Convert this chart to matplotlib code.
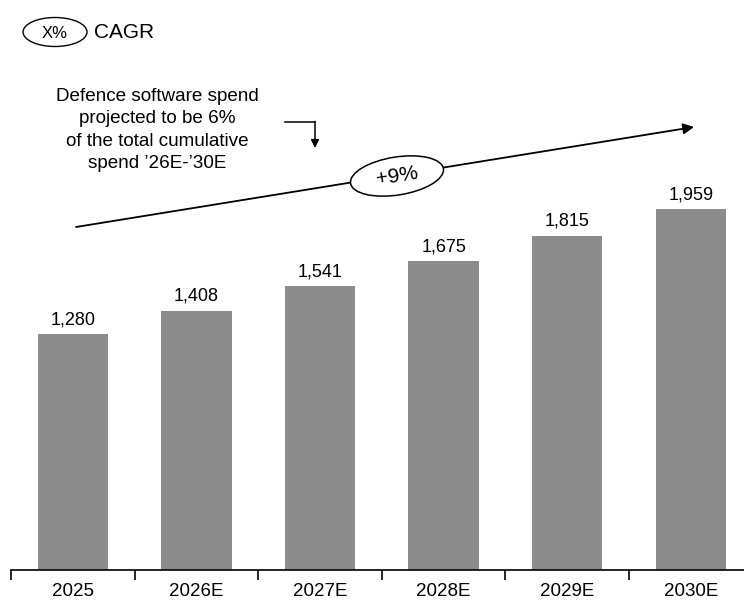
import matplotlib.pyplot as plt
from matplotlib.patches import Ellipse

# ── DATA ────────────────────────────────────────────
years = ["2025", "2026E", "2027E", "2028E", "2029E", "2030E"]
spend = [1280, 1408, 1541, 1675, 1815, 1959]
cagr_label = "+9%"
note = ("Defence software spend\nprojected to be 6%\n"
        "of the total cumulative\nspend \u201926E-\u201930E")

plt.rcParams['font.family'] = ['Liberation Sans', 'DejaVu Sans']
BAR = "#8c8c8c"

W, H = 744, 600
fig = plt.figure(figsize=(W / 100, H / 100), dpi=100)

# main bar axes (right edge runs past the figure, like the source layout)
step = 123.6
ax = fig.add_axes([11 / W, 30 / H, 6 * step / W, 570 / H])
x = range(len(years))
ax.bar(x, spend, width=0.57, color=BAR, zorder=2)
for xi, v in zip(x, spend):
    ax.text(xi, v + 30, f"{v:,}", ha='center', va='bottom', fontsize=13)

ax.set_xlim(-0.5, len(years) - 0.5)
ax.set_ylim(0, 3093)
for s in ("top", "right", "left"):
    ax.spines[s].set_visible(False)
ax.spines["bottom"].set_linewidth(1.2)
ax.set_yticks([])
ax.set_xticks(list(x))
ax.set_xticklabels(years, fontsize=13.5)
ax.tick_params(axis='x', which='major', length=0, pad=9)
ax.set_xticks([i - 0.5 for i in range(len(years) + 1)], minor=True)
ax.tick_params(axis='x', which='minor', length=7, width=1.2, direction='out')

# overlay in pixel units for the annotations
ov = fig.add_axes([0, 0, 1, 1])
ov.set_xlim(0, W)
ov.set_ylim(H, 0)
ov.axis("off")

# legend key
ov.add_patch(Ellipse((55, 32), 64, 29, fill=False, lw=1.0, color="black"))
ov.text(55, 33, "X%", ha='center', va='center', fontsize=12)
ov.text(94, 33, "CAGR", ha='left', va='center', fontsize=15)

# note text and elbow arrow
ov.text(157, 130, note, ha='center', va='center', fontsize=13.6,
        linespacing=1.4)
ov.plot([285, 315], [122, 122], color="black", lw=1.1)
ov.annotate("", xy=(315, 148), xytext=(315, 121.5),
            arrowprops=dict(arrowstyle="-|>", color="black", lw=1.1,
                            mutation_scale=12, shrinkA=0, shrinkB=0))

# CAGR trend arrow with badge
ov.annotate("", xy=(694, 127), xytext=(76, 227),
            arrowprops=dict(arrowstyle="-|>", color="black", lw=1.3,
                            mutation_scale=16, shrinkA=0, shrinkB=0))
ov.add_patch(Ellipse((397, 176), 94, 38, angle=-9, facecolor="white",
                     edgecolor="black", lw=1.1, zorder=3))
ov.text(397, 176, cagr_label, ha='center', va='center', fontsize=15,
        rotation=9, zorder=4)

fig.savefig("out.png", dpi=100)
